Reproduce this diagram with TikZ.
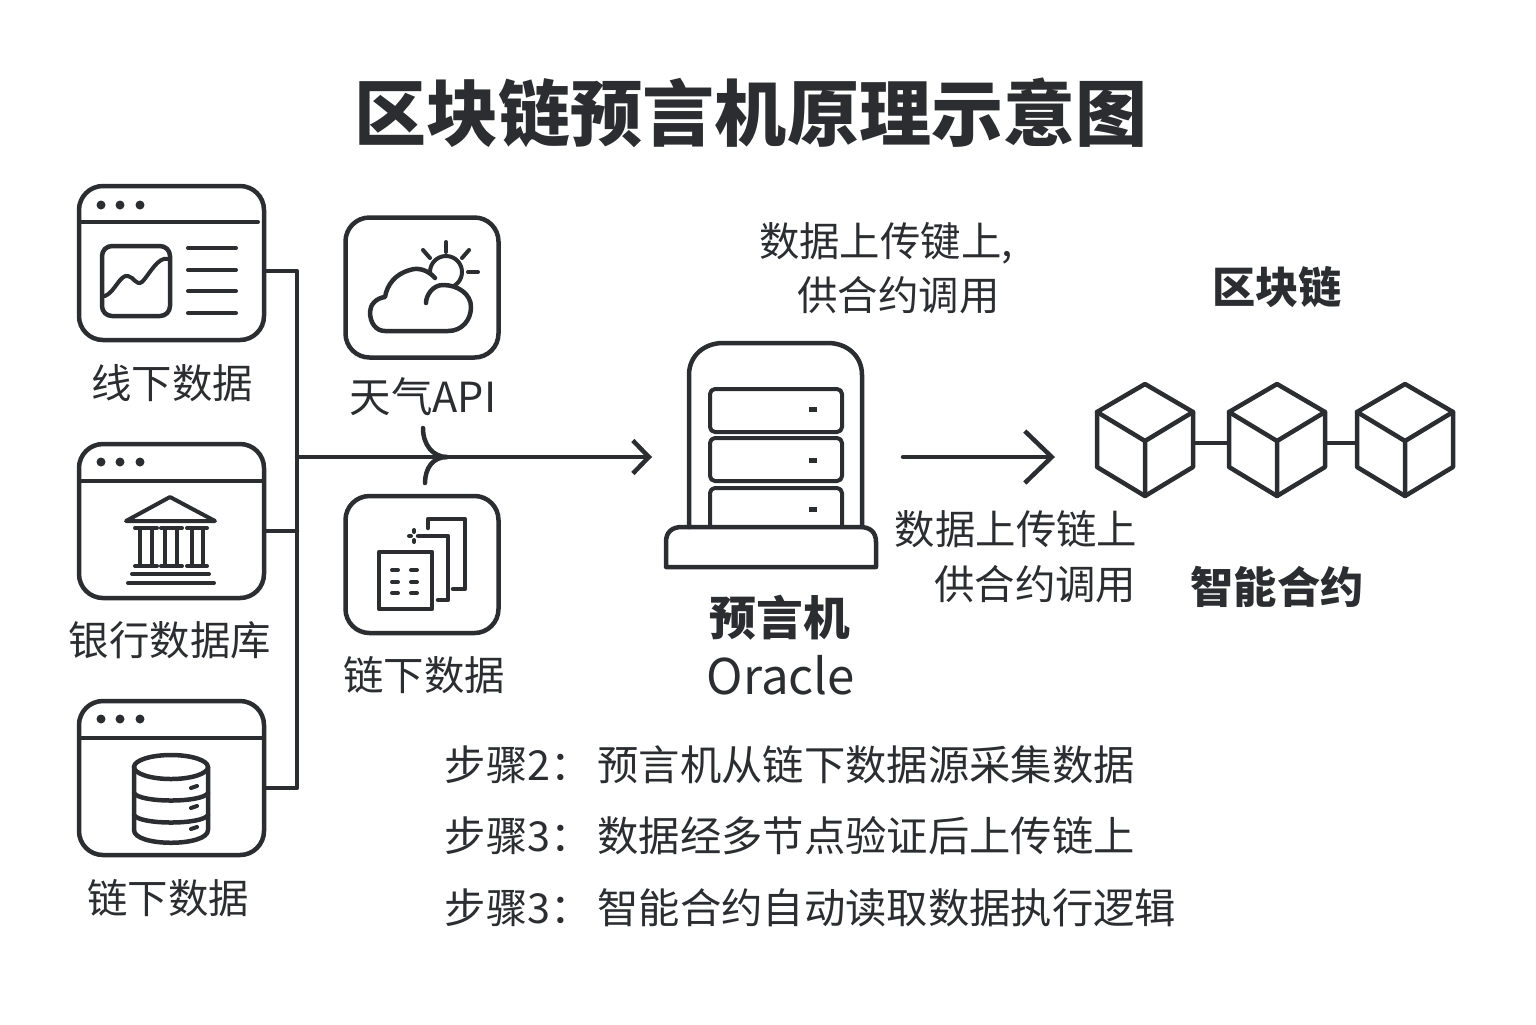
\documentclass[tikz,border=0pt]{standalone}
\usepackage{fontspec}
\setmainfont{Noto Sans CJK SC}
\usetikzlibrary{arrows.meta}
\definecolor{inkdark}{HTML}{2B2D31}
\tikzset{
  ink/.style={draw=inkdark, line width=0.045cm, line cap=round, line join=round},
  thinink/.style={draw=inkdark, line width=0.04cm, line cap=round, line join=round},
  winbox/.style={ink, rounded corners=0.24cm, minimum width=1.85cm, minimum height=1.54cm, inner sep=0pt},
  tilebox/.style={ink, rounded corners=0.24cm, minimum width=1.53cm, inner sep=0pt},
  slotbox/.style={thinink, rounded corners=0.05cm},
  lbl/.style={text=inkdark, inner sep=0pt, font=\fontsize{11.5}{14}\selectfont},
  boldlbl/.style={text=inkdark, inner sep=0pt, font=\bfseries\fontsize{12.3}{14}\selectfont},
  steplbl/.style={text=inkdark, inner sep=0pt, anchor=west, font=\fontsize{11.76}{14}\selectfont},
  dot/.style={fill=inkdark, draw=none},
  cubenode/.style={minimum width=0.97cm, minimum height=1.12cm, inner sep=0pt},
  flow/.style={ink, -{Straight Barb[length=0.16cm, width=0.33cm]}},
  bigflow/.style={ink, -{Straight Barb[length=0.27cm, width=0.52cm]}},
}
\begin{document}
\begin{tikzpicture}
  \useasboundingbox (0cm,0cm) rectangle (15.36cm,-10.24cm);
  \node[text=inkdark, inner sep=0pt, font=\bfseries\fontsize{20.5}{24}\selectfont] (title) at (7.51cm,-1.13cm) {区块链预言机原理示意图};

  % left windows
  \node[winbox] (win1) at (1.715cm,-2.63cm) {};
  \draw[thinink] (0.79cm,-2.22cm) -- (2.58cm,-2.22cm);
  \fill[dot] (1.01cm,-2.05cm) circle (0.045cm) (1.2cm,-2.05cm) circle (0.045cm) (1.4cm,-2.05cm) circle (0.045cm);
  \draw[ink, rounded corners=0.1cm] (1.02cm,-2.46cm) rectangle (1.7cm,-3.16cm);
  \draw[thinink] (1.05cm,-2.96cm) .. controls (1.15cm,-2.92cm) and (1.2cm,-2.74cm) .. (1.28cm,-2.76cm) .. controls (1.34cm,-2.77cm) and (1.36cm,-2.86cm) .. (1.42cm,-2.82cm) .. controls (1.49cm,-2.75cm) and (1.58cm,-2.56cm) .. (1.68cm,-2.59cm);
  \draw[thinink] (1.88cm,-2.48cm) -- (2.36cm,-2.48cm);
  \draw[thinink] (1.88cm,-2.7cm) -- (2.36cm,-2.7cm);
  \draw[thinink] (1.88cm,-2.91cm) -- (2.36cm,-2.91cm);
  \draw[thinink] (1.88cm,-3.13cm) -- (2.36cm,-3.13cm);
  \node[lbl] (win1label) at (1.72cm,-3.83cm) {线下数据};

  \node[winbox] (win2) at (1.715cm,-5.21cm) {};
  \draw[thinink] (0.79cm,-4.81cm) -- (2.64cm,-4.81cm);
  \fill[dot] (1.01cm,-4.62cm) circle (0.045cm) (1.2cm,-4.62cm) circle (0.045cm) (1.4cm,-4.62cm) circle (0.045cm);
  \draw[thinink] (1.26cm,-5.21cm) -- (1.7cm,-4.97cm) -- (2.15cm,-5.21cm) -- cycle;
  \draw[thinink] (1.35cm,-5.28cm) -- (1.57cm,-5.28cm) (1.35cm,-5.66cm) -- (1.57cm,-5.66cm) (1.4cm,-5.28cm) -- (1.4cm,-5.66cm) (1.52cm,-5.28cm) -- (1.52cm,-5.66cm);
  \draw[thinink] (1.61cm,-5.28cm) -- (1.82cm,-5.28cm) (1.61cm,-5.66cm) -- (1.82cm,-5.66cm) (1.65cm,-5.28cm) -- (1.65cm,-5.66cm) (1.77cm,-5.28cm) -- (1.77cm,-5.66cm);
  \draw[thinink] (1.87cm,-5.28cm) -- (2.07cm,-5.28cm) (1.87cm,-5.66cm) -- (2.07cm,-5.66cm) (1.92cm,-5.28cm) -- (1.92cm,-5.66cm) (2.03cm,-5.28cm) -- (2.03cm,-5.66cm);
  \draw[thinink] (1.32cm,-5.74cm) -- (2.09cm,-5.74cm);
  \draw[thinink] (1.28cm,-5.83cm) -- (2.14cm,-5.83cm);
  \node[lbl] (win2label) at (1.7cm,-6.4cm) {银行数据库};

  \node[winbox] (win3) at (1.715cm,-7.78cm) {};
  \draw[thinink] (0.79cm,-7.38cm) -- (2.64cm,-7.38cm);
  \fill[dot] (1.01cm,-7.19cm) circle (0.045cm) (1.2cm,-7.19cm) circle (0.045cm) (1.4cm,-7.19cm) circle (0.045cm);
  \draw[ink] (1.34cm,-7.67cm) -- (1.34cm,-8.3cm) .. controls (1.34cm,-8.47cm) and (2.08cm,-8.47cm) .. (2.08cm,-8.3cm) -- (2.08cm,-7.67cm);
  \draw[ink] (1.71cm,-7.67cm) ellipse (0.37cm and 0.12cm);
  \draw[ink] (1.34cm,-7.93cm) .. controls (1.4cm,-8.03cm) and (2.02cm,-8.03cm) .. (2.08cm,-7.93cm);
  \draw[ink] (1.34cm,-8.15cm) .. controls (1.4cm,-8.25cm) and (2.02cm,-8.25cm) .. (2.08cm,-8.15cm);
  \draw[thinink] (1.91cm,-7.88cm) -- (1.97cm,-7.86cm);
  \draw[thinink] (1.91cm,-8.08cm) -- (1.97cm,-8.06cm);
  \draw[thinink] (1.91cm,-8.29cm) -- (1.97cm,-8.27cm);
  \node[lbl] (win3label) at (1.68cm,-8.98cm) {链下数据};

  % bus
  \coordinate (bus1) at (2.97cm,-2.71cm);
  \coordinate (bus2) at (2.97cm,-5.31cm);
  \coordinate (bus3) at (2.97cm,-7.88cm);
  \coordinate (busin) at (2.97cm,-4.57cm);
  \coordinate (oraclein) at (6.52cm,-4.57cm);
  \draw[ink] (win1.east |- bus1) -- (bus1) -- (bus3) -- (win3.east |- bus3);
  \draw[ink] (win2.east |- bus2) -- (bus2);
  \draw[flow] (busin) -- (oraclein);

  % weather tile
  \node[tilebox, minimum height=1.4cm] (weather) at (4.22cm,-2.875cm) {};
  \draw[thinink] (4.46cm,-2.72cm) circle (0.16cm);
  \fill[white] (3.85cm,-3.31cm) -- (4.48cm,-3.31cm) .. controls (4.62cm,-3.31cm) and (4.71cm,-3.2cm) .. (4.71cm,-3.07cm) .. controls (4.71cm,-2.94cm) and (4.58cm,-2.85cm) .. (4.43cm,-2.85cm) -- (4.35cm,-2.78cm) .. controls (4.28cm,-2.7cm) and (4.18cm,-2.67cm) .. (4.1cm,-2.7cm) .. controls (3.95cm,-2.74cm) and (3.87cm,-2.85cm) .. (3.85cm,-2.97cm) .. controls (3.76cm,-2.98cm) and (3.7cm,-3.05cm) .. (3.7cm,-3.12cm) .. controls (3.7cm,-3.23cm) and (3.76cm,-3.31cm) .. (3.85cm,-3.31cm) -- cycle;
  \draw[ink] (4.35cm,-2.78cm) .. controls (4.28cm,-2.7cm) and (4.18cm,-2.67cm) .. (4.1cm,-2.7cm) .. controls (3.95cm,-2.74cm) and (3.87cm,-2.85cm) .. (3.85cm,-2.97cm) .. controls (3.76cm,-2.98cm) and (3.7cm,-3.05cm) .. (3.7cm,-3.12cm) .. controls (3.7cm,-3.23cm) and (3.76cm,-3.31cm) .. (3.85cm,-3.31cm) -- (4.48cm,-3.31cm) .. controls (4.62cm,-3.31cm) and (4.71cm,-3.2cm) .. (4.71cm,-3.07cm) .. controls (4.71cm,-2.94cm) and (4.58cm,-2.85cm) .. (4.43cm,-2.85cm) .. controls (4.33cm,-2.85cm) and (4.26cm,-2.95cm) .. (4.26cm,-3.03cm);
  \draw[thinink] (4.46cm,-2.42cm) -- (4.46cm,-2.52cm);
  \draw[thinink] (4.23cm,-2.5cm) -- (4.3cm,-2.58cm);
  \draw[thinink] (4.69cm,-2.5cm) -- (4.62cm,-2.58cm);
  \draw[thinink] (4.68cm,-2.72cm) -- (4.78cm,-2.72cm);
  \node[lbl, font=\fontsize{11.8}{14}\selectfont] (weatherlabel) at (4.23cm,-3.97cm) {天气API};

  % merge curves
  \coordinate (mergept) at (4.47cm,-4.57cm);
  \coordinate (weatherout) at (4.23cm,-4.28cm);
  \coordinate (offchainout) at (4.25cm,-4.83cm);
  \draw[ink] (weatherout) .. controls (4.23cm,-4.45cm) and (4.33cm,-4.57cm) .. (mergept);
  \draw[ink] (offchainout) .. controls (4.25cm,-4.68cm) and (4.33cm,-4.57cm) .. (mergept);

  % off-chain tile
  \node[tilebox, minimum height=1.37cm] (offchain) at (4.22cm,-5.645cm) {};
  \draw[ink] (3.79cm,-5.52cm) rectangle (4.32cm,-6.09cm);
  \draw[thinink] (3.92cm,-5.7cm) -- (3.98cm,-5.7cm) (4.11cm,-5.7cm) -- (4.17cm,-5.7cm);
  \draw[thinink] (3.92cm,-5.82cm) -- (3.98cm,-5.82cm) (4.11cm,-5.82cm) -- (4.17cm,-5.82cm);
  \draw[thinink] (3.92cm,-5.93cm) -- (3.98cm,-5.93cm) (4.11cm,-5.93cm) -- (4.17cm,-5.93cm);
  \draw[ink] (4.18cm,-5.36cm) -- (4.48cm,-5.36cm) -- (4.48cm,-6cm) -- (4.38cm,-6cm);
  \draw[ink] (4.28cm,-5.28cm) -- (4.28cm,-5.19cm) -- (4.65cm,-5.19cm) -- (4.65cm,-5.89cm) -- (4.53cm,-5.89cm);
  \draw[thinink] (4.14cm,-5.3cm) -- (4.14cm,-5.32cm) (4.14cm,-5.4cm) -- (4.14cm,-5.42cm) (4.09cm,-5.36cm) -- (4.11cm,-5.36cm);
  \node[lbl] (offchainlabel) at (4.24cm,-6.75cm) {链下数据};

  % oracle server
  \draw[ink] (6.89cm,-5.27cm) -- (6.89cm,-3.75cm) .. controls (6.89cm,-3.55cm) and (7.05cm,-3.43cm) .. (7.23cm,-3.43cm) -- (8.28cm,-3.43cm) .. controls (8.46cm,-3.43cm) and (8.62cm,-3.55cm) .. (8.62cm,-3.75cm) -- (8.62cm,-5.27cm);
  \draw[slotbox] (7.1cm,-3.89cm) rectangle (8.42cm,-4.32cm);
  \draw[slotbox] (7.1cm,-4.38cm) rectangle (8.42cm,-4.81cm);
  \draw[thinink] (7.1cm,-5.27cm) -- (7.1cm,-4.93cm) arc (180:90:0.05cm) -- (8.37cm,-4.88cm) arc (90:0:0.05cm) -- (8.42cm,-5.27cm);
  \draw[thinink, line width=0.05cm, line cap=butt] (8.09cm,-4.09cm) -- (8.17cm,-4.09cm);
  \draw[thinink, line width=0.05cm, line cap=butt] (8.09cm,-4.6cm) -- (8.17cm,-4.6cm);
  \draw[thinink, line width=0.05cm, line cap=butt] (8.09cm,-5.09cm) -- (8.17cm,-5.09cm);
  \draw[ink] (6.66cm,-5.67cm) -- (6.66cm,-5.42cm) .. controls (6.66cm,-5.32cm) and (6.72cm,-5.27cm) .. (6.82cm,-5.27cm) -- (8.6cm,-5.27cm) .. controls (8.7cm,-5.27cm) and (8.76cm,-5.32cm) .. (8.76cm,-5.42cm) -- (8.76cm,-5.67cm) -- cycle;
  \node[boldlbl, font=\bfseries\fontsize{13.3}{16}\selectfont] (oraclename) at (7.8cm,-6.18cm) {预言机};
  \node[text=inkdark, inner sep=0pt, font=\fontsize{14}{16}\selectfont] (oraclelatin) at (7.81cm,-6.75cm) {Oracle};

  % upload notes
  \node[lbl] (note1a) at (8.86cm,-2.43cm) {数据上传键上,};
  \node[lbl] (note1b) at (8.985cm,-2.95cm) {供合约调用};
  \node[lbl, anchor=east] (note2a) at (11.38cm,-5.29cm) {数据上传链上};
  \node[lbl, anchor=east] (note2b) at (11.37cm,-5.84cm) {供合约调用};

  % chain
  \coordinate (oracleout) at (9.03cm,-4.57cm);
  \coordinate (chainin) at (10.55cm,-4.57cm);
  \draw[bigflow] (oracleout) -- (chainin);
  \node[cubenode] (cube1) at (11.45cm,-4.4cm) {};
  \draw[ink] (11.45cm,-3.84cm) -- (11.93cm,-4.12cm) -- (11.93cm,-4.67cm) -- (11.45cm,-4.96cm) -- (10.97cm,-4.67cm) -- (10.97cm,-4.12cm) -- cycle;
  \draw[ink] (10.97cm,-4.12cm) -- (11.45cm,-4.41cm) -- (11.93cm,-4.12cm) (11.45cm,-4.41cm) -- (11.45cm,-4.96cm);
  \node[cubenode] (cube2) at (12.77cm,-4.4cm) {};
  \draw[ink] (12.77cm,-3.84cm) -- (13.25cm,-4.12cm) -- (13.25cm,-4.67cm) -- (12.77cm,-4.96cm) -- (12.29cm,-4.67cm) -- (12.29cm,-4.12cm) -- cycle;
  \draw[ink] (12.29cm,-4.12cm) -- (12.77cm,-4.41cm) -- (13.25cm,-4.12cm) (12.77cm,-4.41cm) -- (12.77cm,-4.96cm);
  \node[cubenode] (cube3) at (14.05cm,-4.4cm) {};
  \draw[ink] (14.05cm,-3.84cm) -- (14.53cm,-4.12cm) -- (14.53cm,-4.67cm) -- (14.05cm,-4.96cm) -- (13.57cm,-4.67cm) -- (13.57cm,-4.12cm) -- cycle;
  \draw[ink] (13.57cm,-4.12cm) -- (14.05cm,-4.41cm) -- (14.53cm,-4.12cm) (14.05cm,-4.41cm) -- (14.05cm,-4.96cm);
  \draw[ink] ([yshift=-0.03cm]cube1.east) -- ([yshift=-0.03cm]cube2.west);
  \draw[ink] ([yshift=-0.03cm]cube2.east) -- ([yshift=-0.03cm]cube3.west);
  \node[boldlbl] (chainname) at (12.77cm,-2.87cm) {区块链};
  \node[boldlbl] (contractname) at (12.77cm,-5.87cm) {智能合约};

  % steps
  \node[steplbl] (step2) at (4.44cm,-7.65cm) {步骤2：\hspace{0.06cm}预言机从链下数据源采集数据};
  \node[steplbl] (step3) at (4.44cm,-8.36cm) {步骤3：\hspace{0.06cm}数据经多节点验证后上传链上};
  \node[steplbl] (step4) at (4.44cm,-9.08cm) {步骤3：\hspace{0.06cm}智能合约自动读取数据执行逻辑};
\end{tikzpicture}
\end{document}
